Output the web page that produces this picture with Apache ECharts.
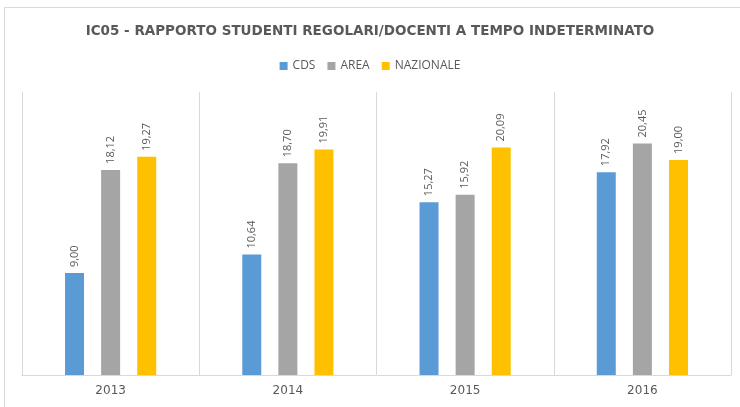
<!DOCTYPE html>
<html>
<head>
<meta charset="utf-8">
<script src="https://cdn.jsdelivr.net/npm/echarts@6/dist/echarts.min.js"></script>
<style>
  html, body { margin: 0; padding: 0; background: #fff; }
  #chart { width: 740px; height: 407px; }
</style>
</head>
<body>
<div id="chart"></div>
<script>
// dati
var anni = ['2013', '2014', '2015', '2016']
var cds = [9.00, 10.64, 15.27, 17.92]
var area = [18.12, 18.70, 15.92, 20.45]
var nazionale = [19.27, 19.91, 20.09, 19.00]

var grigioTesto = '#595959'

function etichetta() {
  return {
    show: true,
    position: 'top',
    rotate: 90,
    align: 'left',
    verticalAlign: 'middle',
    distance: 6,
    color: grigioTesto,
    fontSize: 11,
    fontFamily: 'Open Sans',
    formatter: function (p) {
      return p.value.toFixed(2).replace('.', ',')
    }
  }
}

function serie(nome, dati, colore) {
  return {
    name: nome,
    type: 'bar',
    barWidth: 19,
    barGap: '90%',
    itemStyle: { color: colore },
    label: etichetta(),
    data: dati
  }
}

var chart = echarts.init(document.getElementById('chart'))
chart.setOption({
  animation: false,
  title: {
    text: 'IC05 - RAPPORTO STUDENTI REGOLARI/DOCENTI A TEMPO INDETERMINATO',
    left: 'center',
    top: 19,
    textStyle: {
      color: grigioTesto,
      fontSize: 13.5,
      fontWeight: 'bold',
      fontFamily: 'DejaVu Sans'
    }
  },
  legend: {
    top: 55,
    left: 'center',
    itemWidth: 8,
    itemHeight: 8,
    itemGap: 12,
    icon: 'rect',
    textStyle: { color: grigioTesto, fontSize: 12, fontFamily: 'Open Sans' }
  },
  graphic: [{
    type: 'rect',
    shape: { x: 4.5, y: 7.5, width: 740, height: 420 },
    style: { fill: 'none', stroke: '#d9d9d9', lineWidth: 1 },
    silent: true
  }],
  grid: { left: 22, right: 9, top: 92, bottom: 32 },
  xAxis: {
    type: 'category',
    data: anni,
    axisLine: { show: true, lineStyle: { color: '#d9d9d9' } },
    axisTick: { show: false },
    splitLine: { show: true, lineStyle: { color: '#d9d9d9' } },
    axisLabel: { color: grigioTesto, fontSize: 12, fontFamily: 'DejaVu Sans', margin: 10 }
  },
  yAxis: {
    type: 'value',
    min: 0,
    max: 25,
    axisLine: { show: true, lineStyle: { color: '#d9d9d9' } },
    axisLabel: { show: false },
    axisTick: { show: false },
    splitLine: { show: false }
  },
  series: [
    serie('CDS', cds, '#5B9BD5'),
    serie('AREA', area, '#A5A5A5'),
    serie('NAZIONALE', nazionale, '#FFC000')
  ]
})
</script>
</body>
</html>
